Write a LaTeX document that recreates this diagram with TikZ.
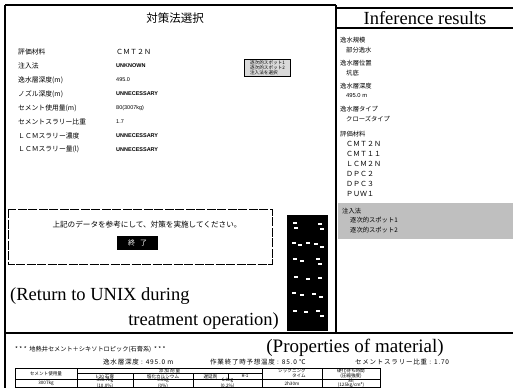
\documentclass[tikz,border=0pt]{standalone}
\usepackage{fontspec}
\setmainfont{Liberation Serif}
\newfontfamily\jp{Noto Sans CJK JP}
\newfontfamily\jpw[LetterSpace=12]{Noto Sans CJK JP}
\newfontfamily\lsn{Liberation Sans}
\begin{document}
\begin{tikzpicture}[x=1pt,y=-1pt,
  lab/.style={anchor=west,inner sep=0pt,font=\jp\fontsize{6.8}{8}\selectfont},
  fw/.style={anchor=west,inner sep=0pt,font=\jp\fontsize{7}{8}\selectfont},
  val/.style={anchor=west,inner sep=0pt,font=\lsn\bfseries\fontsize{5.5}{6}\selectfont},
  rlab/.style={anchor=west,inner sep=0pt,font=\jp\fontsize{6.3}{7}\selectfont},
  big/.style={inner sep=0pt,font=\fontsize{18.5}{19}\selectfont},
  frame/.style={line width=1.3pt},
  tcell/.style={inner sep=0pt,font=\jp\fontsize{4.6}{4.8}\selectfont,align=center},
  small/.style={anchor=west,inner sep=0pt,font=\jp\fontsize{6.2}{7}\selectfont},
  detail/.style={anchor=west,inner sep=0pt,font=\jpw\fontsize{6.5}{7}\selectfont},
]
\useasboundingbox[fill=white] (0,0) rectangle (513,388);
% frames
\draw[frame] (5,5) -- (336,5);
\draw[frame] (336,8) -- (513,8);
\draw[line width=1.8pt] (5,5) -- (5,388);
\draw[frame] (336,5) -- (336,333);
\draw[frame] (336,28) -- (513,28);
\draw[frame] (5,333) -- (513,333);
% left panel
\node[inner sep=0pt,font=\jp\fontsize{11.5}{12}\selectfont] (title) at (175,18) {対策法選択};
\node[lab] (l1) at (18,52) {評価材料};
\node[fw] (v1) at (116,52) {ＣＭＴ２Ｎ};
\node[lab] (l2) at (18,66) {注入法};
\node[val] (v2) at (116,66) {UNKNOWN};
\node[lab] (l3) at (18,80) {逸水層深度(m)};
\node[val,font=\lsn\fontsize{5.5}{6}\selectfont] (v3) at (116,80) {495.0};
\node[lab] (l4) at (18,94) {ノズル深度(m)};
\node[val] (v4) at (116,94) {UNNECESSARY};
\node[lab] (l5) at (18,108) {セメント使用量(m)};
\node[val,font=\lsn\fontsize{5.5}{6}\selectfont] (v5) at (116,108) {80(3007kg)};
\node[lab] (l6) at (18,121.5) {セメントスラリー比重};
\node[val,font=\lsn\fontsize{5.5}{6}\selectfont] (v6) at (116,121.5) {1.7};
\node[lab] (l7) at (18,135.5) {ＬＣＭスラリー濃度};
\node[val] (v7) at (116,135.5) {UNNECESSARY};
\node[lab] (l8) at (18,149.5) {ＬＣＭスラリー量(l)};
\node[val] (v8) at (116,149.5) {UNNECESSARY};
\node[draw,line width=0.8pt,fill=gray!30,minimum width=46pt,minimum height=17pt,inner sep=0.5pt,
  font=\jp\fontsize{4.6}{5.1}\selectfont,align=left] (hint) at (267.5,67.5) {逐次的スポット1\\逐次的スポット2\\注入法を選択};
% message box
\draw[line width=0.7pt,dash pattern=on 9pt off 1.5pt] (8,209) rectangle (272,264);
\node[inner sep=0pt,font=\jp\fontsize{7.6}{8}\selectfont] (msg) at (147,225) {上記のデータを参考にして、対策を実施してください。};
\node[fill=black,text=white,font=\jp\fontsize{7}{7}\selectfont,minimum width=41pt,minimum height=14pt,inner sep=0pt] (btn) at (137.5,243) {終\hspace{5pt}了};
\node[big,anchor=west] (ret1) at (10,296) {(Return to UNIX during};
\node[big,anchor=east] (ret2) at (279,321) {treatment operation)};
% black menu column
\node[fill=black,minimum width=41pt,minimum height=116pt,inner sep=0pt] (menu) at (307.5,273) {};
\foreach \xx/\yy in {293/222,294/227,318/223,320/228,292/242,298/244,306/242,314/243,320/246,
  293/258,300/260,316/258,318/263,294/276,306/278,318/277,292/292,300/294,312/293,319/296,
  293/310,304/311,316/310,320/315}
  \fill[white] (\xx,\yy) rectangle ++(3.5,2);
% right panel
\node[big] (inf) at (425,18) {Inference results};
\node[rlab] (r1) at (340,40) {逸水規模};
\node[rlab] (r1v) at (346,50) {部分逸水};
\node[rlab] (r2) at (340,63) {逸水層位置};
\node[rlab] (r2v) at (346,73) {坑底};
\node[rlab] (r3) at (340,86) {逸水層深度};
\node[rlab,font=\lsn\fontsize{5.8}{6}\selectfont] (r3v) at (346,96) {495.0 m};
\node[rlab] (r4) at (340,109) {逸水層タイプ};
\node[rlab] (r4v) at (346,119) {クローズタイプ};
\node[rlab] (r5) at (340,134) {評価材料};
\node[fw] (m1) at (346,144) {ＣＭＴ２Ｎ};
\node[fw] (m2) at (346,154) {ＣＭＴ１１};
\node[fw] (m3) at (346,164) {ＬＣＭ２Ｎ};
\node[fw] (m4) at (346,174) {ＤＰＣ２};
\node[fw] (m5) at (346,184) {ＤＰＣ３};
\node[fw] (m6) at (346,194) {ＰＵＷ１};
\fill[gray!50] (338,203) rectangle (513,239);
\node[rlab] (s1) at (342,211) {注入法};
\node[rlab] (s2) at (350,220.5) {逐次的スポット1};
\node[rlab] (s3) at (350,230) {逐次的スポット2};
% bottom section
\node[small] (hdr) at (15,349) {* * *\ \ 地熱井セメント＋シキソトロピック(石膏系)\ \ * * *};
\node[inner sep=0pt,font=\fontsize{19}{19}\selectfont] (prop) at (355,348) {(Properties of material)};
\node[detail] (d1) at (103,362) {逸水層深度 : 495.0 m};
\node[detail] (d2) at (210,362) {作業終了時予想温度 : 85.0 ℃};
\node[detail] (d3) at (355,362) {セメントスラリー比重 : 1.70};
% table
\draw[line width=0.9pt] (15,368) rectangle (380,387.5);
\draw[line width=0.6pt] (77,368) -- (77,387.5) (262,368) -- (262,387.5) (322,368) -- (322,387.5)
  (133,373.5) -- (133,387.5) (193,373.5) -- (193,387.5) (77,373.5) -- (262,373.5) (15,379) -- (380,379)
  (228,373.5) -- (228,379);
\node[tcell] (ta) at (46,373.5) {セメント使用量};
\node[tcell] (tb) at (169.5,370.8) {添\ 加\ 剤\ 量};
\node[tcell] (tb1) at (105,376.3) {I-20 石膏};
\node[tcell] (tb2) at (163,376.3) {塩化カルシウム};
\node[tcell] (tb3) at (210.5,376.3) {遅延剤};
\node[tcell] (tb4) at (245,376.3) {R-1};
\node[tcell,align=right] (te) at (292,373.5) {シックニング\\タイム};
\node[tcell] (tf) at (351,373.5) {硬化待ち時間\\(圧縮強度)};
\node[tcell] (da) at (46,383.2) {3007kg};
\node[tcell] (db) at (105,383.2) {300.7kg\\(10.0\%)};
\node[tcell] (dc) at (163,383.2) {0.0kg\\(0\%)};
\node[tcell] (dd) at (227.5,383.2) {6.0kg\\(0.2\%)};
\node[tcell] (de) at (292,383.2) {2h30m};
\node[tcell] (df) at (351,383.2) {8h\\(125kg/cm²)};
\end{tikzpicture}
\end{document}
